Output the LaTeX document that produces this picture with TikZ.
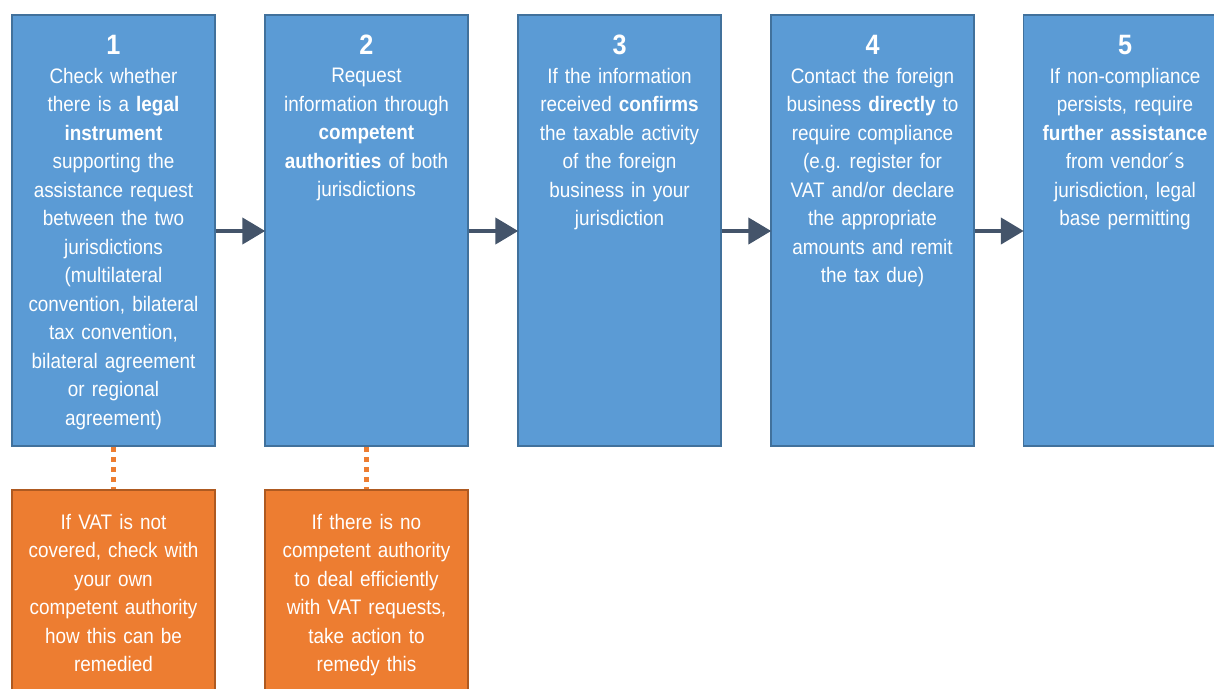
\documentclass[tikz,border=0pt]{standalone}
\usepackage{fontspec}
\setmainfont{Liberation Sans}[FakeStretch=0.9, WordSpace=1.35]
\usetikzlibrary{arrows.meta}
\definecolor{bluefill}{HTML}{5B9BD5}
\definecolor{blueline}{HTML}{41719C}
\definecolor{orfill}{HTML}{ED7D31}
\definecolor{orline}{HTML}{AE5A21}
\definecolor{arrowc}{HTML}{44546A}
\tikzset{
  bluebox/.style={draw=blueline, fill=bluefill, line width=1.5pt, minimum width=203pt, minimum height=431pt, inner sep=0pt},
  orbox/.style={draw=orline, fill=orfill, line width=1.5pt, minimum width=203pt, minimum height=210pt, inner sep=0pt},
  numtxt/.style={text=white, font=\fontsize{28}{30}\selectfont\bfseries, inner sep=0pt, anchor=base},
  bodytxt/.style={text=white, font=\fontsize{21}{28.5}\selectfont, align=center, inner sep=0pt, anchor=north},
  flow/.style={draw=arrowc, line width=4.5pt, -{Triangle[length=23pt,width=26pt]}, shorten >=-1pt},
  dotlink/.style={draw=orfill, line width=4.5pt, dash pattern=on 5pt off 5pt}
}
\begin{document}
\begin{tikzpicture}[x=1pt,y=-1pt]
\useasboundingbox (0,0) rectangle (1214,688);
\clip (0,0) rectangle (1214,688);
% blue boxes
\node[bluebox] (b1) at (113.5,230.5) {};
\node[bluebox] (b2) at (366.5,230.5) {};
\node[bluebox] (b3) at (619.5,230.5) {};
\node[bluebox] (b4) at (872.5,230.5) {};
\node[bluebox] (b5) at (1125,230.5) {};
% orange boxes
\node[orbox] (o1) at (113.5,595) {};
\node[orbox] (o2) at (366.5,595) {};
% numbers
\node[numtxt] (n1) at (113.5,54) {1};
\node[numtxt] (n2) at (366.5,54) {2};
\node[numtxt] (n3) at (619.5,54) {3};
\node[numtxt] (n4) at (872.5,54) {4};
\node[numtxt] (n5) at (1125,54) {5};
% body texts
\node[bodytxt] (t1) at (113.5,68) {Check whether\\there is a \textbf{legal}\\\textbf{instrument}\\supporting the\\assistance request\\between the two\\jurisdictions\\(multilateral\\convention, bilateral\\tax convention,\\bilateral agreement\\or regional\\agreement)};
\node[bodytxt] (t2) at (366.5,68) {Request\\information through\\\textbf{competent}\\\textbf{authorities} of both\\jurisdictions};
\node[bodytxt] (t3) at (619.5,68) {If the information\\received \textbf{confirms}\\the taxable activity\\of the foreign\\business in your\\jurisdiction};
\node[bodytxt] (t4) at (872.5,68) {Contact the foreign\\business \textbf{directly} to\\require compliance\\(e.g. register for\\VAT and/or declare\\the appropriate\\amounts and remit\\the tax due)};
\node[bodytxt] (t5) at (1125,68) {If non-compliance\\persists, require\\\textbf{further assistance}\\from vendor´s\\jurisdiction, legal\\base permitting};
\node[bodytxt] (u1) at (113.5,514) {If VAT is not\\covered, check with\\your own\\competent authority\\how this can be\\remedied};
\node[bodytxt] (u2) at (366.5,514) {If there is no\\competent authority\\to deal efficiently\\with VAT requests,\\take action to\\remedy this};
% arrows
\draw[flow] (b1.east |- 0,231) -- (b2.west |- 0,231);
\draw[flow] (b2.east |- 0,231) -- (b3.west |- 0,231);
\draw[flow] (b3.east |- 0,231) -- (b4.west |- 0,231);
\draw[flow] (b4.east |- 0,231) -- (b5.west |- 0,231);
% dotted links
\draw[dotlink] (b1.south) -- (o1.north);
\draw[dotlink] (b2.south) -- (o2.north);
\end{tikzpicture}
\end{document}
